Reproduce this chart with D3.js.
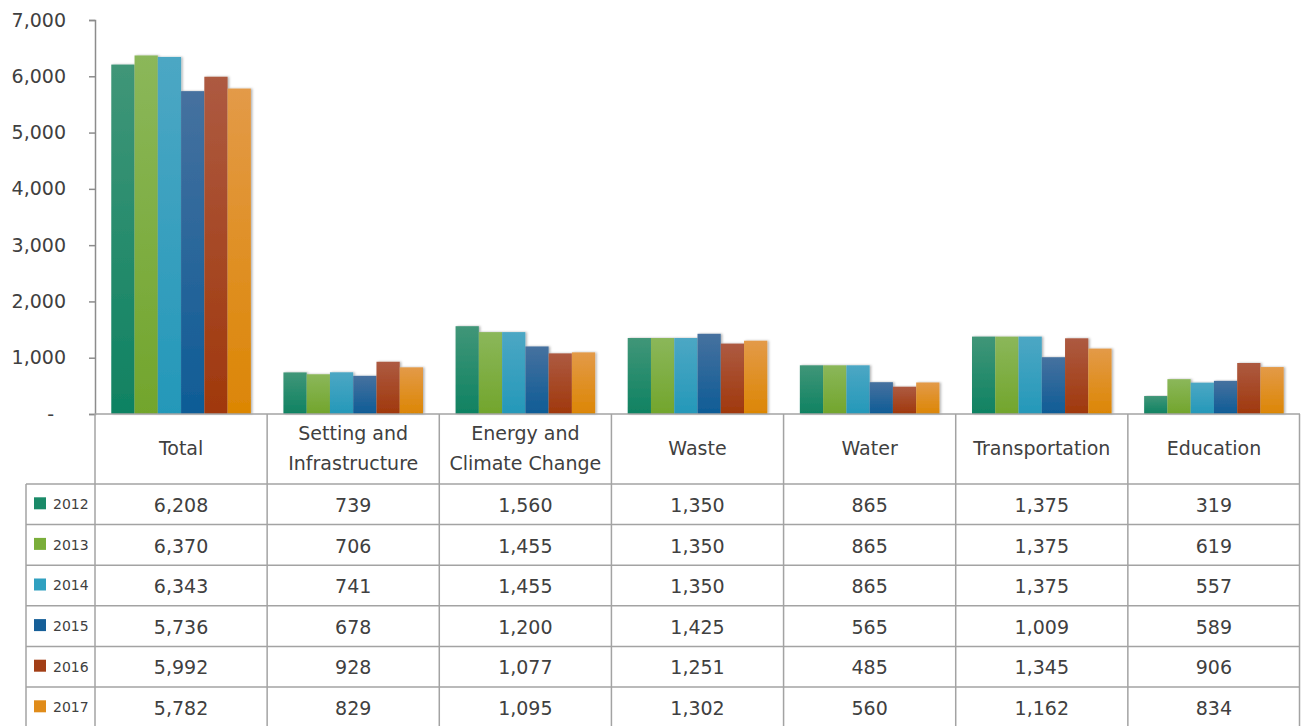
<!DOCTYPE html>
<html><head><meta charset="utf-8">
<script src="https://cdn.jsdelivr.net/npm/d3@7"></script>
<style>
html,body{margin:0;padding:0;background:#fff;}
svg{display:block;}
text{font-family:"DejaVu Sans",Verdana,sans-serif;fill:#404040;}
</style></head>
<body>
<svg id="chart" width="1301" height="726"></svg>
<script>
const categories = ["Total", "Setting and\nInfrastructure", "Energy and\nClimate Change", "Waste", "Water", "Transportation", "Education"];
const years = ["2012", "2013", "2014", "2015", "2016", "2017"];
const values2012 = [6208, 739, 1560, 1350, 865, 1375, 319];
const values2013 = [6370, 706, 1455, 1350, 865, 1375, 619];
const values2014 = [6343, 741, 1455, 1350, 865, 1375, 557];
const values2015 = [5736, 678, 1200, 1425, 565, 1009, 589];
const values2016 = [5992, 928, 1077, 1251, 485, 1345, 906];
const values2017 = [5782, 829, 1095, 1302, 560, 1162, 834];
const yTicks = [0, 1000, 2000, 3000, 4000, 5000, 6000, 7000];
const seriesValues = [values2012, values2013, values2014, values2015, values2016, values2017];

const colorsTop = ["#409678", "#8bb75a", "#4ca7c4", "#46719f", "#ad5a41", "#e39a48"];
const colorsBot = ["#0f8262", "#72a52c", "#2498b9", "#0e5c96", "#a0380c", "#dc8604"];
const colorsKey = ["#1a8a68", "#7aae3a", "#30a0c0", "#165f98", "#a23e16", "#e08c1a"];

const svg = d3.select("#chart");
const defs = svg.append("defs");
years.forEach((y, i) => {
  const g = defs.append("linearGradient").attr("id", "grad" + i)
    .attr("x1", 0).attr("y1", 0).attr("x2", 0).attr("y2", 1);
  g.append("stop").attr("offset", "0%").attr("stop-color", colorsTop[i]);
  g.append("stop").attr("offset", "100%").attr("stop-color", colorsBot[i]);
});
const f = defs.append("filter").attr("id", "shadow").attr("x", "-20%").attr("y", "-5%").attr("width", "150%").attr("height", "110%");
f.append("feDropShadow").attr("dx", 1.5).attr("dy", 0).attr("stdDeviation", 1.2).attr("flood-color", "#000").attr("flood-opacity", 0.3);

const plotLeft = 95, plotRight = 1300, plotTop = 20, plotBottom = 414;
const x0 = d3.scaleBand().domain(categories).range([plotLeft, plotRight]).paddingInner(0).paddingOuter(0);
const x1 = d3.scaleBand().domain(years).range([0, x0.bandwidth()]).paddingOuter(0.7).paddingInner(0);
const y = d3.scaleLinear().domain([0, 7000]).range([plotBottom, plotTop]);

// bars
const groups = svg.append("g").selectAll("g").data(categories).join("g")
  .attr("transform", d => `translate(${x0(d)},0)`);
groups.selectAll("rect").data((c, ci) => years.map((yr, si) => ({yr, si, v: seriesValues[si][ci]})))
  .join("rect")
  .attr("x", d => x1(d.yr))
  .attr("width", x1.bandwidth())
  .attr("y", d => y(d.v))
  .attr("height", d => y(0) - y(d.v))
  .attr("fill", d => `url(#grad${d.si})`)
  .attr("filter", "url(#shadow)");

// y axis
const yAxis = d3.axisLeft(y).tickValues(yTicks).tickSize(6).tickPadding(23)
  .tickFormat(d => d === 0 ? "-" : d3.format(",")(d));
const ag = svg.append("g").attr("transform", `translate(${plotLeft},0)`).call(yAxis);
ag.select(".domain").attr("stroke", "#8c8c8c").attr("stroke-width", 1.5);
ag.selectAll(".tick line").attr("stroke", "#8c8c8c").attr("stroke-width", 1.5);
ag.selectAll(".tick text").style("font-family", '"DejaVu Sans",Verdana,sans-serif').attr("font-size", 19).attr("fill", "#404040");
ag.selectAll(".tick text").filter(d => d === 0).attr("x", -41);

// table
const rowTop = 484, rowH = 40.6, legendLeft = 26;
const t = svg.append("g");
const lineColor = "#a3a3a3";
t.append("line").attr("x1", plotLeft).attr("x2", plotRight).attr("y1", plotBottom).attr("y2", plotBottom)
  .attr("stroke", lineColor).attr("stroke-width", 1.5);
d3.range(0, 7).forEach(r => {
  t.append("line").attr("x1", legendLeft).attr("x2", plotRight)
    .attr("y1", rowTop + r * rowH).attr("y2", rowTop + r * rowH)
    .attr("stroke", lineColor).attr("stroke-width", 1.5);
});
t.append("line").attr("x1", legendLeft).attr("x2", legendLeft).attr("y1", rowTop).attr("y2", 726)
  .attr("stroke", lineColor).attr("stroke-width", 1.5);
categories.forEach(c => {
  t.append("line").attr("x1", x0(c)).attr("x2", x0(c)).attr("y1", plotBottom).attr("y2", 726)
    .attr("stroke", lineColor).attr("stroke-width", 1.5);
});
t.append("line").attr("x1", plotRight - 0.5).attr("x2", plotRight - 0.5).attr("y1", plotBottom).attr("y2", 726)
  .attr("stroke", lineColor).attr("stroke-width", 1.5);

categories.forEach(c => {
  const lines = c.split("\n");
  const cx = x0(c) + x0.bandwidth() / 2;
  const txt = t.append("text").attr("x", cx).attr("text-anchor", "middle").attr("font-size", 19);
  const cy = (plotBottom + rowTop) / 2 - 1;
  lines.forEach((l, i) => {
    txt.append("tspan").attr("x", cx)
      .attr("y", cy + (i - (lines.length - 1) / 2) * 30)
      .attr("dy", "0.35em").text(l);
  });
});
years.forEach((yr, si) => {
  const cy = rowTop + si * rowH + rowH / 2;
  t.append("rect").attr("x", 34).attr("y", cy - 7).attr("width", 12).attr("height", 12).attr("fill", colorsKey[si]);
  t.append("text").attr("x", 53).attr("y", cy).attr("dy", "0.35em").attr("font-size", 14).text(yr);
  categories.forEach((c, ci) => {
    t.append("text").attr("x", x0(c) + x0.bandwidth() / 2).attr("y", cy + 1).attr("dy", "0.35em")
      .attr("text-anchor", "middle").attr("font-size", 19).text(d3.format(",")(seriesValues[si][ci]));
  });
});
</script>
</body></html>
